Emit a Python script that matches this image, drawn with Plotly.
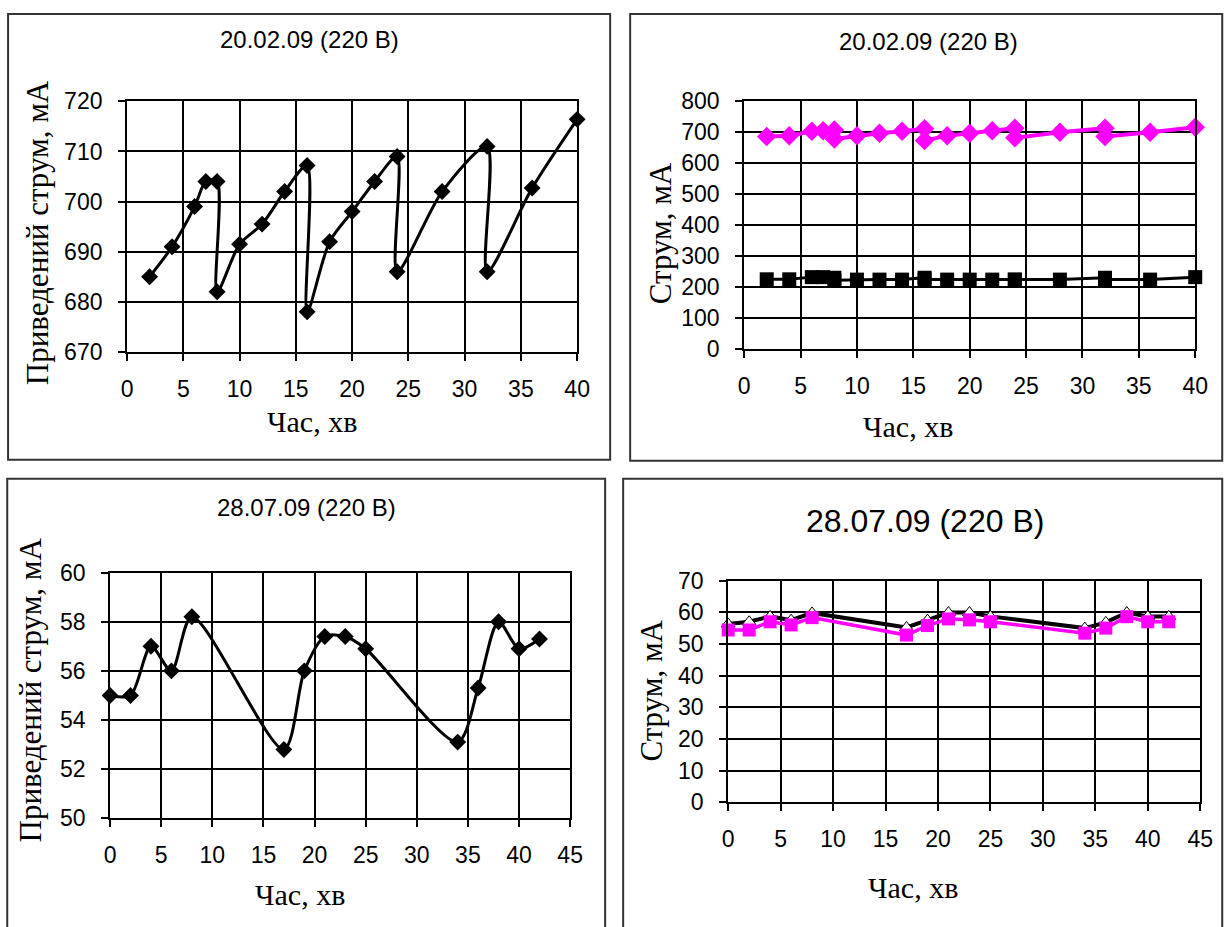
import plotly.graph_objects as go

# ---------- data ----------
# Panel 1 & 2 : 20.02.09
t_feb = [2, 4, 6, 7, 8, 8, 10, 12, 14, 16, 16, 18, 20, 22, 24, 24, 28, 32, 32, 36, 40]
reduced_feb = [685, 691, 699, 704, 704, 682, 691.5, 695.5, 702, 707.2, 678, 692, 698, 704,
               709, 686, 702, 711, 686, 702.7, 716.4]
current_feb_pink = [686, 689, 703, 705, 707, 678, 689, 697, 703, 711, 673, 689, 697, 705,
                    713, 682, 700, 713, 686, 700, 716]
current_feb_black = [225, 225, 232, 232, 230, 222, 224, 224, 224, 230, 224, 224, 224, 224,
                     224, 224, 224, 230, 224, 224, 232]

# Panel 3 & 4 : 28.07.09
t_jul = [0, 2, 4, 6, 8, 17, 19, 21, 23, 25, 34, 36, 38, 40, 42]
reduced_jul = [55.0, 55.0, 57.0, 56.0, 58.2, 52.8, 56.0, 57.4, 57.4, 56.9, 53.1, 55.3, 58.0, 56.9, 57.3]
current_jul_tri = [56.3, 57.0, 58.7, 57.5, 59.8, 55.2, 57.5, 59.9, 59.9, 58.7, 55.0, 56.8, 59.9, 58.7, 58.7]
current_jul_sq = [54.4, 54.4, 57.0, 56.0, 58.3, 52.8, 55.8, 57.9, 57.6, 57.0, 53.4, 55.0, 58.6, 57.0, 57.0]

titles = ["20.02.09 (220 В)", "20.02.09 (220 В)", "28.07.09 (220 В)", "28.07.09 (220 В)"]
ytitle_reduced = "Приведений струм, мА"
ytitle_current = "Струм, мА"
xtitle = "Час, хв"

# figure size and measured mapping figure-px -> picture-px (picture = s*fig + b)
W, H = 1240, 950
SX, BX = 0.98455, 5.93
SY, BY = 0.97407, 11.56
MAG = "#FF00FF"
SANS = "Liberation Sans, Arial, sans-serif"
SERIF = "Liberation Serif, Times New Roman, serif"


def px(P):
    """picture x pixel -> paper fraction"""
    return ((P - BX) / SX) / W


def py(P):
    """picture y pixel -> paper fraction"""
    return 1 - ((P - BY) / SY) / H


fig = go.Figure()

fig.add_trace(go.Scatter(x=t_feb, y=reduced_feb, mode="lines+markers",
                         line=dict(color="black", width=3, shape="spline", smoothing=0.8),
                         marker=dict(symbol="diamond", size=13, color="black"),
                         cliponaxis=False, xaxis="x", yaxis="y"))
fig.add_trace(go.Scatter(x=t_feb, y=current_feb_black, mode="lines+markers",
                         line=dict(color="black", width=3),
                         marker=dict(symbol="square", size=14, color="black"),
                         cliponaxis=False, xaxis="x2", yaxis="y2"))
fig.add_trace(go.Scatter(x=t_feb, y=current_feb_pink, mode="lines+markers",
                         line=dict(color=MAG, width=4),
                         marker=dict(symbol="diamond", size=15, color=MAG),
                         cliponaxis=False, xaxis="x2", yaxis="y2"))
fig.add_trace(go.Scatter(x=t_jul, y=reduced_jul, mode="lines+markers",
                         line=dict(color="black", width=3, shape="spline", smoothing=0.8),
                         marker=dict(symbol="diamond", size=13, color="black"),
                         cliponaxis=False, xaxis="x3", yaxis="y3"))
fig.add_trace(go.Scatter(x=t_jul, y=current_jul_tri, mode="lines+markers",
                         line=dict(color="black", width=4),
                         marker=dict(symbol="triangle-up", size=12, color="white",
                                     line=dict(color="black", width=1)),
                         cliponaxis=False, xaxis="x4", yaxis="y4"))
fig.add_trace(go.Scatter(x=t_jul, y=current_jul_sq, mode="lines+markers",
                         line=dict(color=MAG, width=3.5),
                         marker=dict(symbol="square", size=13, color=MAG),
                         cliponaxis=False, xaxis="x4", yaxis="y4"))

# plot areas in reference picture pixels: (left, right, top, bottom)
areas = [
    (127, 577, 100, 351),
    (744, 1195, 100, 348),
    (110, 570, 572, 818),
    (728, 1200, 580, 802),
]
xranges = [(0, 40, 5), (0, 40, 5), (0, 45, 5), (0, 45, 5)]
yranges = [(670, 720, 10), (0, 800, 100), (50, 60, 2), (0, 70, 10)]

axcommon = dict(showgrid=True, gridcolor="black", gridwidth=2, showline=True,
                linecolor="black", linewidth=2, mirror=True, ticks="outside",
                ticklen=7, tickwidth=2, tickcolor="black", zeroline=False,
                tickfont=dict(family=SANS, size=23, color="black"), fixedrange=True)

layout = dict(width=W, height=H, margin=dict(l=0, r=0, t=0, b=0),
              paper_bgcolor="white", plot_bgcolor="white", showlegend=False)

for i, (a, xr, yr) in enumerate(zip(areas, xranges, yranges)):
    sfx = "" if i == 0 else str(i + 1)
    l, r, t, b = a
    layout["xaxis" + sfx] = dict(axcommon, domain=[px(l), px(r)], range=[xr[0], xr[1]],
                                 tick0=xr[0], dtick=xr[2], anchor="y" + sfx,
                                 ticklabelstandoff=8)
    layout["yaxis" + sfx] = dict(axcommon, domain=[py(b), py(t)], range=[yr[0], yr[1]],
                                 tick0=yr[0], dtick=yr[2], anchor="x" + sfx,
                                 ticklabelstandoff=11)

fig.update_layout(**layout)

# panel frames (picture pixels)
frames = [(8, 610, 8, 459), (630, 1222, 8, 460), (7, 605, 478, 945), (623, 1222, 478, 945)]
for (l, r, t, b) in frames:
    fig.add_shape(type="rect", xref="paper", yref="paper",
                  x0=max(px(l), 0.001), x1=px(r), y0=py(b), y1=min(py(t), 0.999),
                  line=dict(color="#333333", width=2))

title_pos = [(309, 38, 24), (928, 40, 24), (306, 507, 24), (925, 520, 32)]
for txt, (x, y, s) in zip(titles, title_pos):
    fig.add_annotation(text=txt, x=px(x), y=py(y), xref="paper", yref="paper",
                       showarrow=False, xanchor="center", yanchor="middle",
                       font=dict(family=SANS, size=s, color="black"))

for (x, y) in [(312, 421), (908, 426), (300, 894), (913, 887)]:
    fig.add_annotation(text=xtitle, x=px(x), y=py(y), xref="paper", yref="paper",
                       showarrow=False, xanchor="center", yanchor="middle",
                       font=dict(family=SERIF, size=30, color="black"))

for txt, (x, y) in [(ytitle_reduced, (37, 232)), (ytitle_current, (660, 232)),
                    (ytitle_reduced, (30, 690)), (ytitle_current, (651, 690))]:
    fig.add_annotation(text=txt, x=px(x), y=py(y), xref="paper", yref="paper",
                       showarrow=False, xanchor="center", yanchor="middle", textangle=-90,
                       font=dict(family=SERIF, size=31, color="black"))

fig.write_html("out.html")
